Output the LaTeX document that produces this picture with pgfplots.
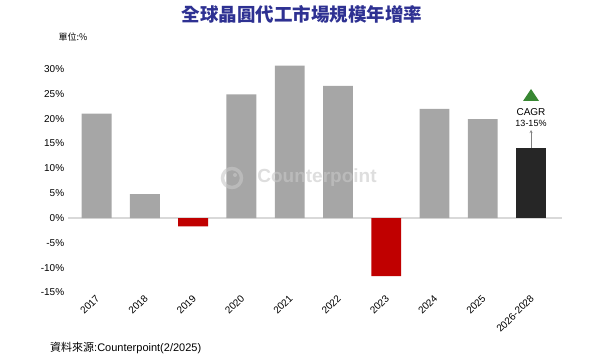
\documentclass[border=0pt]{standalone}
\usepackage{pgfplots}
\pgfplotsset{compat=1.18}
\usepackage{fontspec}
\setmainfont{Liberation Sans}
\newfontfamily\cjk{Noto Sans CJK TC}
\definecolor{titleblue}{RGB}{46,49,146}
\definecolor{bargray}{RGB}{166,166,166}
\definecolor{barred}{RGB}{192,0,0}
\definecolor{bardark}{RGB}{38,38,38}
\definecolor{cagrgreen}{RGB}{56,135,50}
\definecolor{zeroline}{RGB}{217,217,217}
\definecolor{wm}{RGB}{200,200,200}
\begin{document}
\begin{tikzpicture}[x=1pt,y=1pt]
\path[use as bounding box] (0,0) rectangle (600,362);
\node[font=\cjk\bfseries\fontsize{18.5}{22}\selectfont, text=titleblue] at (302,348) {全球晶圓代工市場規模年增率};
\node[font=\cjk\fontsize{9}{11}\selectfont] at (73,325) {單位:\%};
\node[anchor=west, inner sep=0pt, font=\fontsize{11}{13}\selectfont] at (50,14) {{\cjk 資料來源}:Counterpoint(2/2025)};
\begin{axis}[
  at={(67.7pt,69.5pt)}, anchor=south west,
  scale only axis, width=494.7pt, height=248.3pt,
  xmin=-0.6, xmax=9.65, ymin=-15, ymax=35,
  axis line style={draw=none},
  tick style={draw=none},
  xtick={0,1,2,3,4,5,6,7,8,9},
  xticklabels={2017,2018,2019,2020,2021,2022,2023,2024,2025,2026-2028},
  x tick label style={rotate=45, anchor=north east, font=\fontsize{10}{12}\selectfont, inner sep=1pt, yshift=4pt, xshift=2pt},
  ytick={-15,-10,-5,0,5,10,15,20,25,30},
  yticklabels={-15\%,-10\%,-5\%,0\%,5\%,10\%,15\%,20\%,25\%,30\%},
  y tick label style={font=\fontsize{10}{12}\selectfont},
  ybar, bar width=0.62, bar shift=0pt,
  clip=false,
]
\draw[zeroline, line width=1.5pt] (axis cs:-0.6,0) -- (axis cs:9.65,0);
\addplot[fill=bargray, draw=none] coordinates {(0,21.0) (1,4.8) (3,24.9) (4,30.7) (5,26.6) (7,22.0) (8,19.9)};
\addplot[fill=barred, draw=none] coordinates {(2,-1.7) (6,-11.7)};
\addplot[fill=bardark, draw=none] coordinates {(9,14.0)};
\end{axis}
% watermark
\begin{scope}[opacity=0.6]
\draw[wm, line width=3.5pt] (232,184) circle (9.5);
\fill[wm] (235,187) circle (2);
\node[text=wm, font=\bfseries\fontsize{19}{22}\selectfont] at (317,184) {Counterpoint};
\end{scope}
% CAGR annotation
\fill[cagrgreen] (531,273) -- (523,261) -- (539,261) -- cycle;
\node[font=\fontsize{10}{12}\selectfont] at (531,250) {CAGR};
\node[font=\fontsize{9}{11}\selectfont] at (531,239) {13-15\%};
\draw[gray, -stealth] (531,214) -- (531,232);
\end{tikzpicture}
\end{document}
